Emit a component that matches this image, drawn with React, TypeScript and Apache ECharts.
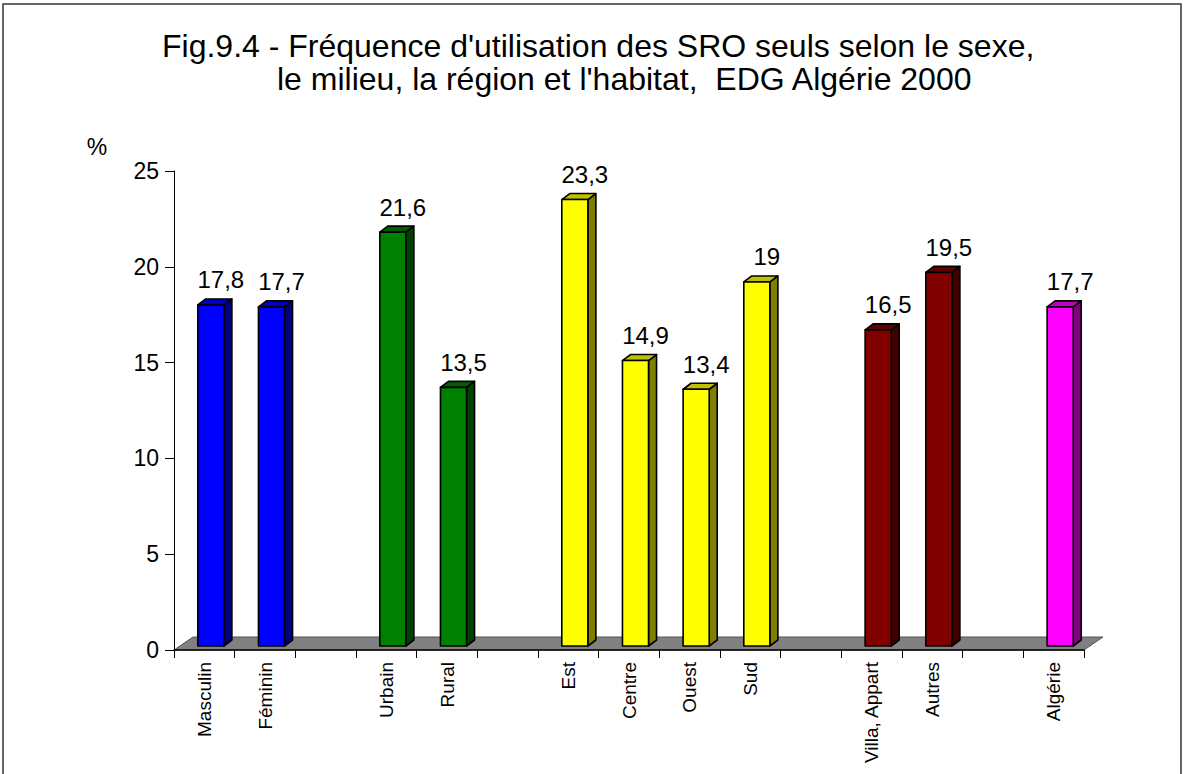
import React, { useEffect, useRef } from "react";
import * as echarts from "echarts";

const titleLine1 = "Fig.9.4 - Fréquence d'utilisation des SRO seuls selon le sexe,";
const titleLine2 = "le milieu, la région et l'habitat,  EDG Algérie 2000";
const yUnit = "%";

const categories = [
  "Masculin", "Féminin", "", "Urbain", "Rural", "",
  "Est", "Centre", "Ouest", "Sud", "",
  "Villa, Appart", "Autres", "", "Algérie",
];
const values: (number | null)[] = [
  17.8, 17.7, null, 21.6, 13.5, null,
  23.3, 14.9, 13.4, 19, null,
  16.5, 19.5, null, 17.7,
];
const groups = [
  "sexe", "sexe", "", "milieu", "milieu", "",
  "region", "region", "region", "region", "",
  "habitat", "habitat", "", "total",
];
const yMin = 0;
const yMax = 25;
const yStep = 5;

const palette: Record<string, { front: string; side: string; top: string }> = {
  sexe: { front: "#0000FF", side: "#000080", top: "#0000C0" },
  milieu: { front: "#008000", side: "#004000", top: "#006000" },
  region: { front: "#FFFF00", side: "#808000", top: "#C0C000" },
  habitat: { front: "#800000", side: "#400000", top: "#600000" },
  total: { front: "#FF00FF", side: "#800080", top: "#C000C0" },
};

const FONT = "'Liberation Sans', Arial, Helvetica, sans-serif";
// 3D projection offsets
const FRONT_DX = 6.5;
const FRONT_DY = -4;
const DEPTH_DX = 8;
const DEPTH_DY = -6;
const FLOOR_DX = 19;
const FLOOR_DY = -13;

export default function App() {
  const ref = useRef<HTMLDivElement>(null);

  useEffect(() => {
    document.body.style.margin = "0";
    if (!ref.current) return;
    const chart = echarts.init(ref.current, undefined, { renderer: "svg" });

    const barData = values.map((v, i) => [i, v == null ? NaN : v]);

    const option: any = {
      animation: false,
      backgroundColor: "#ffffff",
      textStyle: { fontFamily: FONT },
      grid: { left: 174, top: 171, width: 910, height: 479, containLabel: false },
      graphic: [
        {
          type: "rect",
          shape: { x: 3, y: 4, width: 1178, height: 800 },
          style: { fill: "none", stroke: "#333", lineWidth: 1.5 },
          silent: true,
        },
        {
          type: "text",
          x: 162,
          y: 46,
          style: {
            text: titleLine1,
            font: `32px ${FONT}`,
            fill: "#000",
            textAlign: "left",
            textVerticalAlign: "middle",
          },
        },
        {
          type: "text",
          x: 277,
          y: 79,
          style: {
            text: titleLine2,
            font: `32px ${FONT}`,
            fill: "#000",
            textAlign: "left",
            textVerticalAlign: "middle",
          },
        },
        {
          type: "text",
          x: 97,
          y: 147,
          style: {
            text: yUnit,
            font: `23px ${FONT}`,
            fill: "#000",
            textAlign: "center",
            textVerticalAlign: "middle",
          },
        },
      ],
      xAxis: {
        type: "category",
        data: categories,
        boundaryGap: true,
        axisLine: { show: true, lineStyle: { color: "#000", width: 1.5 } },
        axisTick: { show: true, interval: 0, length: 8, lineStyle: { color: "#000" } },
        axisLabel: {
          interval: 0,
          rotate: 90,
          margin: 12,
          fontSize: 19,
          fontFamily: FONT,
          color: "#000",
        },
        splitLine: { show: false },
        z: 5,
      },
      yAxis: {
        type: "value",
        min: yMin,
        max: yMax,
        interval: yStep,
        axisLine: { show: true, lineStyle: { color: "#000", width: 1 } },
        axisTick: { show: true, length: 9, lineStyle: { color: "#000" } },
        axisLabel: { margin: 15, fontSize: 23, fontFamily: FONT, color: "#000" },
        splitLine: { show: false },
      },
      series: [
        {
          type: "custom",
          name: "floor",
          data: [[0, 0]],
          z: 1,
          silent: true,
          encode: { x: 0, y: 1 },
          renderItem: (params: any, api: any) => {
            const band = api.size([1, 0])[0];
            const left = api.coord([0, 0]);
            const right = api.coord([categories.length - 1, 0]);
            const x0 = left[0] - band / 2;
            const x1 = right[0] + band / 2;
            const y = left[1];
            return {
              type: "polygon",
              shape: {
                points: [
                  [x0, y],
                  [x1, y],
                  [x1 + FLOOR_DX, y + FLOOR_DY],
                  [x0 + FLOOR_DX, y + FLOOR_DY],
                ],
              },
              style: { fill: "#808080", stroke: "#555", lineWidth: 1 },
            };
          },
        },
        {
          type: "custom",
          name: "bars",
          data: barData,
          z: 3,
          encode: { x: 0, y: 1 },
          renderItem: (params: any, api: any) => {
            const idx = api.value(0);
            const v = api.value(1);
            if (v == null || isNaN(v)) return null;
            const g = palette[groups[idx]];
            const band = api.size([1, 0])[0];
            const w = band * 0.43;
            const top = api.coord([idx, v]);
            const base = api.coord([idx, 0]);
            const cx = top[0] + FRONT_DX;
            const xa = cx - w / 2;
            const xb = cx + w / 2;
            const yT = top[1] + FRONT_DY;
            const yB = base[1] + FRONT_DY;
            const stroke = { stroke: "#000", lineWidth: 1.6, lineJoin: "round" };
            return {
              type: "group",
              children: [
                {
                  type: "polygon",
                  shape: {
                    points: [
                      [xb, yB],
                      [xb + DEPTH_DX, yB + DEPTH_DY],
                      [xb + DEPTH_DX, yT + DEPTH_DY],
                      [xb, yT],
                    ],
                  },
                  style: { fill: g.side, ...stroke },
                },
                {
                  type: "polygon",
                  shape: {
                    points: [
                      [xa, yT],
                      [xa + DEPTH_DX, yT + DEPTH_DY],
                      [xb + DEPTH_DX, yT + DEPTH_DY],
                      [xb, yT],
                    ],
                  },
                  style: { fill: g.top, ...stroke },
                },
                {
                  type: "rect",
                  shape: { x: xa, y: yT, width: w, height: yB - yT },
                  style: { fill: g.front, ...stroke },
                },
                {
                  type: "text",
                  x: cx + 10,
                  y: yT - 25,
                  style: {
                    text: String(v).replace(".", ","),
                    font: `24px ${FONT}`,
                    fill: "#000",
                    textAlign: "center",
                    textVerticalAlign: "middle",
                  },
                },
              ],
            };
          },
        },
      ],
    };

    chart.setOption(option);
    return () => chart.dispose();
  }, []);

  return <div ref={ref} style={{ width: 1185, height: 774 }} />;
}
